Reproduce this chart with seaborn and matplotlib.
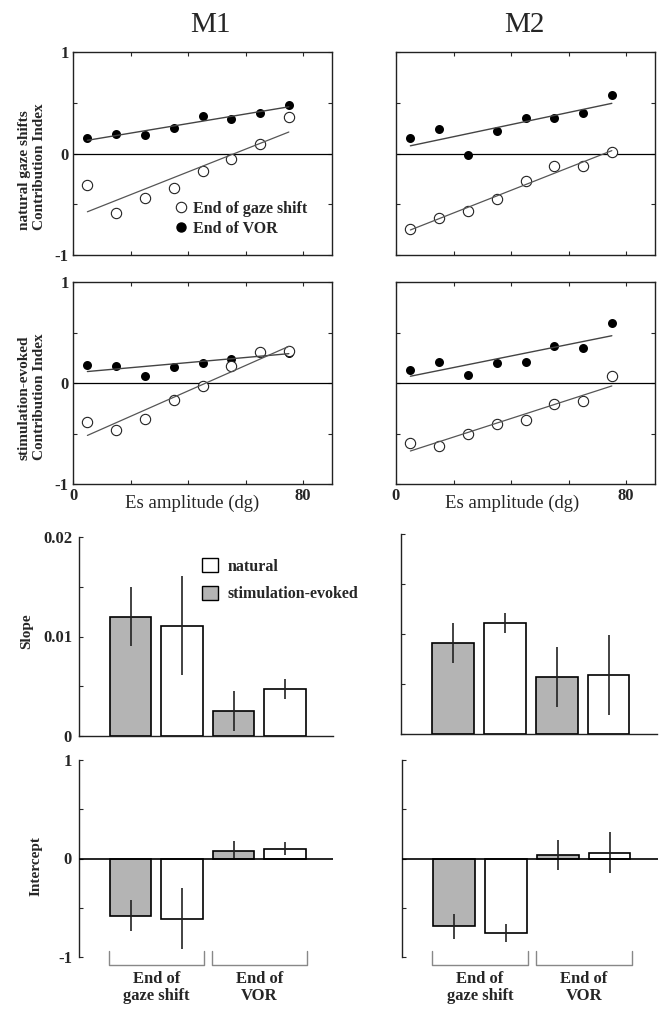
import numpy as np
import pandas as pd
import matplotlib
matplotlib.use('Agg')
import matplotlib.pyplot as plt
import seaborn as sns
from matplotlib.patches import Patch
from matplotlib.lines import Line2D

sns.set_theme(style='ticks')
plt.rcParams['font.family'] = ['Liberation Serif', 'DejaVu Serif']
plt.rcParams['axes.edgecolor'] = '#222222'
plt.rcParams['axes.linewidth'] = 1.0

# Es amplitude bins (dg)
amplitude = [5, 15, 25, 35, 45, 55, 65, 75]

# contribution index, M1
m1_nat_gaze = [-0.31, -0.59, -0.44, -0.34, -0.17, -0.05, 0.09, 0.36]
m1_nat_vor = [0.15, 0.19, 0.18, 0.25, 0.37, 0.34, 0.40, 0.48]
m1_stim_gaze = [-0.39, -0.47, -0.36, -0.17, -0.03, 0.165, 0.31, 0.32]
m1_stim_vor = [0.175, 0.17, 0.066, 0.16, 0.20, 0.235, 0.31, 0.30]

# contribution index, M2
m2_nat_gaze = [-0.74, -0.64, -0.57, -0.45, -0.27, -0.12, -0.12, 0.01]
m2_nat_vor = [0.15, 0.24, -0.01, 0.22, 0.35, 0.35, 0.40, 0.58]
m2_stim_gaze = [-0.59, -0.62, -0.50, -0.41, -0.37, -0.21, -0.18, 0.07]
m2_stim_vor = [0.127, 0.21, 0.083, 0.20, 0.21, 0.37, 0.35, 0.59]

# bar summaries: gaze shift (stim, natural), VOR (stim, natural)
groups = ['gaze_stim', 'gaze_nat', 'vor_stim', 'vor_nat']
bar_colors = ['#b4b4b4', 'white', '#b4b4b4', 'white']
m1_slope = [0.0120, 0.0111, 0.0025, 0.0047]
m1_slope_err = [0.0030, 0.0050, 0.0020, 0.0010]
m2_slope = [0.0091, 0.0111, 0.0057, 0.0059]
m2_slope_err = [0.0020, 0.0010, 0.0030, 0.0040]
m1_icpt = [-0.58, -0.61, 0.08, 0.10]
m1_icpt_err = [0.16, 0.31, 0.10, 0.065]
m2_icpt = [-0.69, -0.76, 0.035, 0.06]
m2_icpt_err = [0.13, 0.09, 0.155, 0.205]

W, H = 662, 1009
fig = plt.figure(figsize=(W / 100, H / 100), dpi=100)


def px_axes(x0, y0, x1, y1):
    return fig.add_axes([x0 / W, 1 - y1 / H, (x1 - x0) / W, (y1 - y0) / H])


bold = dict(fontweight='bold', fontsize=11)


def scatter_panel(ax, gaze, vor, left, bottom):
    ax.axhline(0, color='black', lw=0.9, zorder=1)
    sns.regplot(x=amplitude, y=vor, ci=None, ax=ax, truncate=True,
                scatter_kws=dict(s=42, color='black', alpha=1, linewidths=0),
                line_kws=dict(color='#444444', lw=1.0))
    sns.regplot(x=amplitude, y=gaze, ci=None, ax=ax, truncate=True,
                scatter_kws=dict(s=55, color='black', facecolors='white',
                                 edgecolors='#222222', alpha=1, linewidths=0.8),
                line_kws=dict(color='#555555', lw=0.9))
    ax.set_xlim(0, 90)
    ax.set_ylim(-1, 1)
    ax.set_xticks([0, 20, 40, 60, 80])
    ax.set_yticks([-1, -0.5, 0, 0.5, 1])
    ax.tick_params(direction='in', top=True, right=True, length=3, width=0.8,
                   labelsize=12, pad=3)
    ax.set_yticklabels(['-1', '', '0', '', '1'] if left else [], fontweight='bold')
    ax.set_xticklabels(['0', '', '', '', '80'] if bottom else [], fontweight='bold')
    if not left:
        ax.tick_params(labelleft=False)
    if not bottom:
        ax.tick_params(labelbottom=False)
    ax.set_xlabel('')
    ax.set_ylabel('')


def bar_panel(ax, vals, errs, ylim, yticks, ylabels):
    df = pd.DataFrame({'cond': groups, 'val': vals})
    sns.barplot(data=df, x='cond', y='val', hue='cond', palette=bar_colors,
                legend=False, width=0.8, saturation=1, edgecolor='black',
                linewidth=1.2, ax=ax)
    ax.errorbar(range(4), vals, yerr=errs, fmt='none', ecolor='#222222',
                elinewidth=1.2, capsize=0, zorder=3)
    ax.set_xlim(-1, 3.93)
    ax.set_ylim(*ylim)
    ax.set_xticks([])
    ax.set_yticks(yticks)
    ax.set_yticklabels(ylabels, fontweight='bold')
    ax.tick_params(axis='y', direction='in', length=3, width=0.8, labelsize=12, pad=5)
    sns.despine(ax=ax, top=True, right=True)
    ax.set_xlabel('')
    ax.set_ylabel('')


# scatter panels
ax_tl = px_axes(73, 52, 332, 255)
scatter_panel(ax_tl, m1_nat_gaze, m1_nat_vor, True, False)
ax_tr = px_axes(396, 52, 655, 255)
scatter_panel(ax_tr, m2_nat_gaze, m2_nat_vor, False, False)
ax_ml = px_axes(73, 282, 332, 484)
scatter_panel(ax_ml, m1_stim_gaze, m1_stim_vor, True, True)
ax_mr = px_axes(396, 282, 655, 484)
scatter_panel(ax_mr, m2_stim_gaze, m2_stim_vor, False, True)

ax_tl.legend(handles=[Line2D([], [], marker='o', ls='', ms=7.5, mfc='white', mec='#222222', mew=0.8),
                      Line2D([], [], marker='o', ls='', ms=6.5, mfc='black', mec='black')],
             labels=['End of gaze shift', 'End of VOR'], loc='upper left',
             bbox_to_anchor=(175 / W, 1 - 201 / H), bbox_transform=fig.transFigure,
             frameon=False, borderpad=0, borderaxespad=0, handlelength=0.8,
             handletextpad=0.3, labelspacing=0.22, prop=dict(weight='bold', size=11.5))

fig.text(210 / W, 1 - 25 / H, 'M1', ha='center', va='center', fontsize=21)
fig.text(524 / W, 1 - 25 / H, 'M2', ha='center', va='center', fontsize=21)

fig.text(32 / W, 1 - 230 / H, 'natural gaze shifts\nContribution Index', rotation=90,
         ha='center', va='bottom', multialignment='left', linespacing=1.2, **bold)
fig.text(32 / W, 1 - 460 / H, 'stimulation-evoked\nContribution Index', rotation=90,
         ha='center', va='bottom', multialignment='left', linespacing=1.2, **bold)
fig.text(192 / W, 1 - 503 / H, 'Es amplitude (dg)', ha='center', va='center', fontsize=13.5)
fig.text(512 / W, 1 - 503 / H, 'Es amplitude (dg)', ha='center', va='center', fontsize=13.5)

# slope panels
ax_sl = px_axes(79, 537, 333, 736)
bar_panel(ax_sl, m1_slope, m1_slope_err, (0, 0.02), [0, 0.005, 0.01, 0.015, 0.02],
          ['0', '', '0.01', '', '0.02'])
ax_sr = px_axes(401, 534, 657, 734)
bar_panel(ax_sr, m2_slope, m2_slope_err, (0, 0.02), [0, 0.005, 0.01, 0.015, 0.02],
          [''] * 5)
ax_sl.legend(handles=[Patch(facecolor='white', edgecolor='black', lw=1.0),
                      Patch(facecolor=bar_colors[0], edgecolor='black', lw=1.0)],
             labels=['natural', 'stimulation-evoked'], loc='upper left',
             bbox_to_anchor=(202 / W, 1 - 558 / H), bbox_transform=fig.transFigure,
             frameon=False, borderpad=0, borderaxespad=0, handlelength=1.0,
             handleheight=1.0, handletextpad=0.6, labelspacing=0.7,
             prop=dict(weight='bold', size=11.5))
fig.text(27 / W, 1 - 631 / H, 'Slope', rotation=90, ha='center', va='center', **bold)

# intercept panels
for ax_box, vals, errs, lab in [((79, 760, 333, 957), m1_icpt, m1_icpt_err, ['-1', '', '0', '', '1']),
                                ((402, 760, 658, 957), m2_icpt, m2_icpt_err, [''] * 5)]:
    ax = px_axes(*ax_box)
    bar_panel(ax, vals, errs, (-1, 1), [-1, -0.5, 0, 0.5, 1], lab)
    ax.spines['bottom'].set_visible(False)
    ax.axhline(0, color='black', lw=1.2, zorder=4)
    for c, txt in zip([0.5, 2.5], ['End of\ngaze shift', 'End of\nVOR']):
        ax.plot([c - 0.92, c - 0.92, c + 0.92, c + 0.92], [-0.94, -1.08, -1.08, -0.94],
                color='#888888', lw=1.0, clip_on=False)
        ax.text(c, -1.14, txt, ha='center', va='top', linespacing=1.1,
                fontsize=12, fontweight='bold')

fig.text(36 / W, 1 - 866 / H, 'Intercept', rotation=90, ha='center', va='center', **bold)

fig.savefig('out.png', dpi=100)
